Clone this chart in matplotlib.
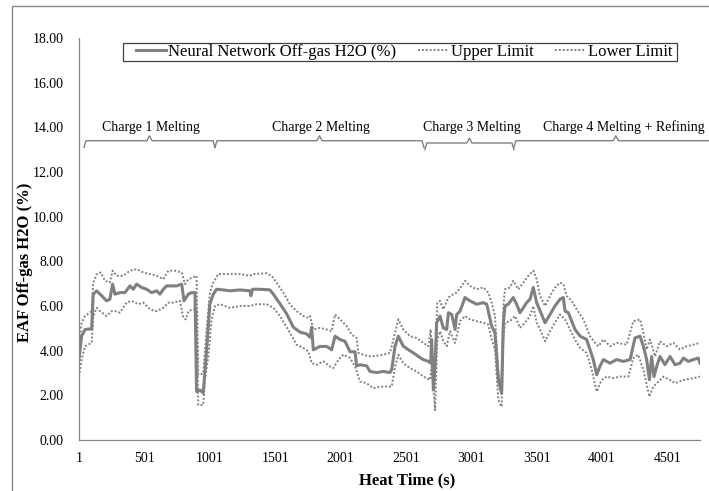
import matplotlib
matplotlib.use('Agg')
import matplotlib.pyplot as plt
from matplotlib.patches import Rectangle

plt.rcParams['font.family'] = 'Liberation Serif'

# Neural network prediction (centre line)
nn_x = [1, 21, 47, 98, 110, 136, 174, 212, 237, 258, 276, 314, 352, 391, 416, 442, 480, 518,
        556, 595, 620, 646, 671, 709, 748, 786, 804, 837, 862, 888, 900, 926, 951, 977, 1002,
        1028, 1053, 1104, 1155, 1232, 1308, 1316, 1328, 1385, 1461, 1487, 1538, 1589, 1640,
        1691, 1742, 1768, 1780, 1793, 1844, 1895, 1933, 1959, 1997, 2035, 2074, 2112, 2124,
        2150, 2201, 2226, 2277, 2328, 2379, 2392, 2418, 2443, 2481, 2520, 2558, 2596, 2634,
        2673, 2690, 2698, 2711, 2724, 2736, 2762, 2787, 2813, 2826, 2851, 2877, 2889, 2915,
        2953, 2991, 3042, 3093, 3119, 3157, 3182, 3208, 3233, 3246, 3259, 3284, 3322, 3348,
        3373, 3399, 3424, 3450, 3475, 3501, 3539, 3565, 3603, 3641, 3679, 3705, 3718, 3743,
        3769, 3794, 3833, 3883, 3909, 3934, 3960, 3985, 4011, 4062, 4113, 4164, 4215, 4253,
        4291, 4317, 4342, 4363, 4380, 4398, 4419, 4444, 4482, 4521, 4559, 4597, 4623, 4661,
        4699, 4737, 4750]
nn_y = [3.6, 4.65, 4.95, 4.98, 6.53, 6.68, 6.46, 6.23, 6.3, 6.98, 6.53, 6.6, 6.6, 6.9, 6.75,
        6.98, 6.83, 6.75, 6.6, 6.68, 6.53, 6.75, 6.9, 6.9, 6.9, 6.98, 6.23, 6.53, 6.6, 6.6,
        2.17, 2.24, 2.1, 4.04, 6.1, 6.53, 6.75, 6.72, 6.68, 6.72, 6.68, 6.46, 6.75, 6.75, 6.72,
        6.53, 6.1, 5.65, 5.05, 4.83, 4.75, 4.6, 5.05, 4.04, 4.19, 4.19, 4.04, 4.65, 4.5, 4.42,
        3.95, 3.95, 3.32, 3.37, 3.32, 3.07, 3.02, 3.07, 3.02, 3.15, 4.2, 4.65, 4.2, 4.04, 3.9,
        3.74, 3.6, 3.52, 3.44, 4.5, 2.24, 3.3, 5.25, 5.55, 5.02, 4.95, 5.7, 5.62, 4.95, 5.62,
        5.77, 6.38, 6.23, 6.08, 6.15, 6.08, 5.1, 4.8, 2.7, 2.09, 5.25, 6.0, 6.08, 6.38, 6.08,
        5.7, 5.92, 6.15, 6.3, 6.83, 6.15, 5.62, 5.25, 5.62, 6.0, 6.3, 6.38, 5.77, 5.7, 5.32,
        4.95, 4.65, 4.5, 4.04, 3.6, 2.92, 3.3, 3.6, 3.44, 3.6, 3.52, 3.6, 4.57, 4.65, 4.2, 3.6,
        2.7, 3.74, 2.84, 3.3, 3.74, 3.37, 3.74, 3.37, 3.44, 3.67, 3.52, 3.6, 3.67, 3.44]

# Upper limit
up_x = [1, 21, 47, 98, 110, 136, 168, 199, 237, 258, 288, 339, 391, 442, 493, 544, 595, 646,
        684, 735, 786, 811, 837, 875, 900, 913, 926, 951, 977, 1002, 1028, 1066, 1130, 1232,
        1308, 1334, 1436, 1474, 1512, 1563, 1614, 1665, 1716, 1755, 1768, 1793, 1844, 1895,
        1933, 1959, 1997, 2048, 2086, 2124, 2137, 2175, 2226, 2277, 2328, 2379, 2405, 2443,
        2481, 2532, 2583, 2634, 2673, 2690, 2711, 2724, 2741, 2762, 2787, 2826, 2864, 2889,
        2928, 2953, 2991, 3042, 3093, 3131, 3157, 3182, 3208, 3233, 3246, 3259, 3297, 3322,
        3361, 3399, 3437, 3475, 3501, 3526, 3565, 3603, 3641, 3679, 3705, 3730, 3769, 3807,
        3858, 3909, 3947, 3973, 4011, 4062, 4113, 4189, 4240, 4291, 4317, 4342, 4368, 4406,
        4444, 4495, 4546, 4597, 4648, 4699, 4750]
up_y = [4.3, 5.25, 5.55, 5.77, 7.05, 7.43, 7.5, 7.13, 7.05, 7.58, 7.35, 7.35, 7.58, 7.65, 7.5,
        7.43, 7.35, 7.2, 7.58, 7.58, 7.5, 6.98, 7.2, 7.28, 7.35, 2.92, 2.92, 2.99, 4.95, 6.6,
        7.05, 7.43, 7.43, 7.43, 7.35, 7.43, 7.47, 7.35, 7.05, 6.6, 6.08, 5.77, 5.55, 5.47, 5.55,
        4.95, 5.02, 4.95, 4.87, 5.62, 5.4, 5.1, 4.72, 4.57, 3.9, 3.82, 3.74, 3.77, 3.82, 3.9,
        4.5, 5.4, 4.95, 4.65, 4.57, 4.35, 4.2, 4.95, 2.6, 3.3, 6.15, 6.23, 5.85, 6.38, 6.53,
        6.6, 6.9, 7.13, 6.9, 6.75, 6.83, 6.6, 6.15, 5.55, 2.99, 2.39, 6.0, 6.75, 6.83, 7.13,
        6.75, 7.05, 7.35, 7.58, 7.2, 6.45, 6.0, 6.45, 6.83, 7.05, 6.98, 6.45, 6.23, 5.85, 5.4,
        4.65, 4.35, 4.2, 4.5, 4.2, 4.35, 4.27, 5.32, 5.4, 4.8, 4.05, 4.5, 3.74, 4.42, 4.2, 4.35,
        4.05, 4.2, 4.27, 4.35]

# Lower limit
lo_x = [1, 21, 47, 98, 110, 136, 162, 212, 251, 276, 314, 365, 403, 455, 493, 544, 595, 646,
        684, 722, 773, 799, 819, 837, 875, 900, 913, 951, 964, 990, 1015, 1041, 1079, 1155,
        1232, 1308, 1359, 1436, 1487, 1538, 1614, 1665, 1716, 1755, 1780, 1819, 1870, 1921,
        1946, 1984, 2023, 2074, 2112, 2150, 2201, 2252, 2303, 2354, 2392, 2418, 2443, 2481,
        2532, 2583, 2634, 2685, 2698, 2724, 2741, 2762, 2787, 2813, 2838, 2877, 2915, 2953,
        2991, 3042, 3093, 3131, 3157, 3182, 3208, 3233, 3246, 3259, 3297, 3335, 3373, 3412,
        3450, 3475, 3501, 3539, 3565, 3603, 3641, 3679, 3718, 3756, 3794, 3833, 3883, 3922,
        3960, 3998, 4036, 4087, 4138, 4202, 4240, 4278, 4317, 4363, 4393, 4419, 4470, 4521,
        4559, 4623, 4699, 4750]
lo_y = [2.84, 3.6, 4.2, 4.35, 5.55, 5.92, 5.77, 5.55, 5.77, 5.77, 5.7, 6.15, 6.23, 6.08, 6.15,
        5.85, 5.77, 5.92, 6.15, 6.15, 6.23, 5.47, 5.4, 5.77, 5.85, 5.85, 1.57, 1.57, 2.69, 3.74,
        5.4, 6.0, 6.08, 5.92, 6.0, 6.0, 6.08, 6.08, 5.92, 5.55, 4.8, 4.27, 4.12, 3.97, 3.44,
        3.37, 3.52, 3.29, 3.22, 3.59, 3.82, 3.67, 3.29, 2.62, 2.54, 2.32, 2.39, 2.39, 2.39,
        3.29, 3.82, 3.44, 3.22, 3.07, 2.84, 2.69, 3.29, 1.34, 4.5, 4.87, 4.42, 4.2, 4.87, 4.35,
        5.32, 5.55, 5.4, 5.32, 5.25, 5.17, 4.5, 4.05, 1.79, 1.49, 4.5, 5.25, 5.32, 5.55, 5.02,
        5.25, 5.55, 6.0, 5.25, 4.8, 4.42, 4.87, 5.25, 5.62, 5.4, 4.95, 4.5, 4.12, 3.9, 3.14,
        2.17, 2.69, 2.84, 2.77, 2.84, 2.84, 3.67, 3.82, 3.14, 1.94, 2.39, 2.54, 2.84, 2.69,
        2.54, 2.69, 2.77, 2.84]

# heat phases: label, start, end, bracket level, label position
phases = [('Charge 1 Melting', 39, 1041, 13.4, 552),
          ('Charge 2 Melting', 1041, 2639, 13.4, 1851),
          ('Charge 3 Melting', 2646, 3327, 13.3, 3005),
          ('Charge 4 Melting + Refining', 3327, 4885, 13.4, 4170)]

x_ticks = [1, 501, 1001, 1501, 2001, 2501, 3001, 3501, 4001, 4501]
y_ticks = [0, 2, 4, 6, 8, 10, 12, 14, 16, 18]

W, H = 709, 491
fig = plt.figure(figsize=(W / 100, H / 100), dpi=100)
ax = fig.add_axes([79 / W, 1 - 440 / H, (700 - 79) / W, (440 - 38) / H])

gray = '#808080'
ax.plot(nn_x, nn_y, color=gray, lw=2.2, label='Neural Network Off-gas H2O (%)')
ax.plot(up_x, up_y, color=gray, lw=1.4, ls=(0, (1, 1)), label='Upper Limit')
ax.plot(lo_x, lo_y, color=gray, lw=1.4, ls=(0, (1, 1)), label='Lower Limit')

ax.set_xlim(1, 4750)
ax.set_ylim(0, 18)
ax.set_xticks(x_ticks)
ax.set_yticks(y_ticks)
ax.set_yticklabels(['%.2f' % v for v in y_ticks])
ax.tick_params(axis='both', length=0, labelsize=10)
ax.tick_params(axis='x', pad=9)
ax.tick_params(axis='y', pad=11)
for s in ['top', 'right']:
    ax.spines[s].set_visible(False)
for s in ['left', 'bottom']:
    ax.spines[s].set_color('#868686')
    ax.spines[s].set_linewidth(0.9)

# phase brackets
for name, x0, x1, lev, tx in phases:
    xm = (x0 + x1) / 2
    bx = [x0, x0 + 15, xm - 20, xm, xm + 20, x1 - 15, x1]
    by = [lev - 0.3, lev, lev, lev + 0.22, lev, lev, lev - 0.3]
    ax.plot(bx, by, color=gray, lw=1.0, clip_on=False)
    ax.text(tx, 14.0, name, ha='center', va='center', fontsize=10, clip_on=False)

fig.text(25 / W, 1 - 262 / H, 'EAF Off-gas H2O (%)', rotation=90, ha='center', va='center',
         fontsize=12, fontweight='bold')
fig.text(407 / W, 1 - 480 / H, 'Heat Time (s)', ha='center', va='center',
         fontsize=12, fontweight='bold')

# legend box
fig.patches.append(Rectangle((123 / W, 1 - 61 / H), (677 - 123) / W, 18 / H,
                             transform=fig.transFigure, fill=False, ec='#404040', lw=0.9))
fig.legend(loc='center', bbox_to_anchor=(404 / W, 1 - 52 / H), ncol=3, frameon=False,
           fontsize=12, handlelength=1.8, handletextpad=0.15, columnspacing=1.3,
           borderpad=0, borderaxespad=0)

# chart area border
fig.patches.append(Rectangle((11.5 / W, -0.1), 1.2, 1 - 6 / H + 0.1,
                             transform=fig.transFigure, fill=False, ec='#868686', lw=1.0))

fig.savefig('out.png', dpi=100)
